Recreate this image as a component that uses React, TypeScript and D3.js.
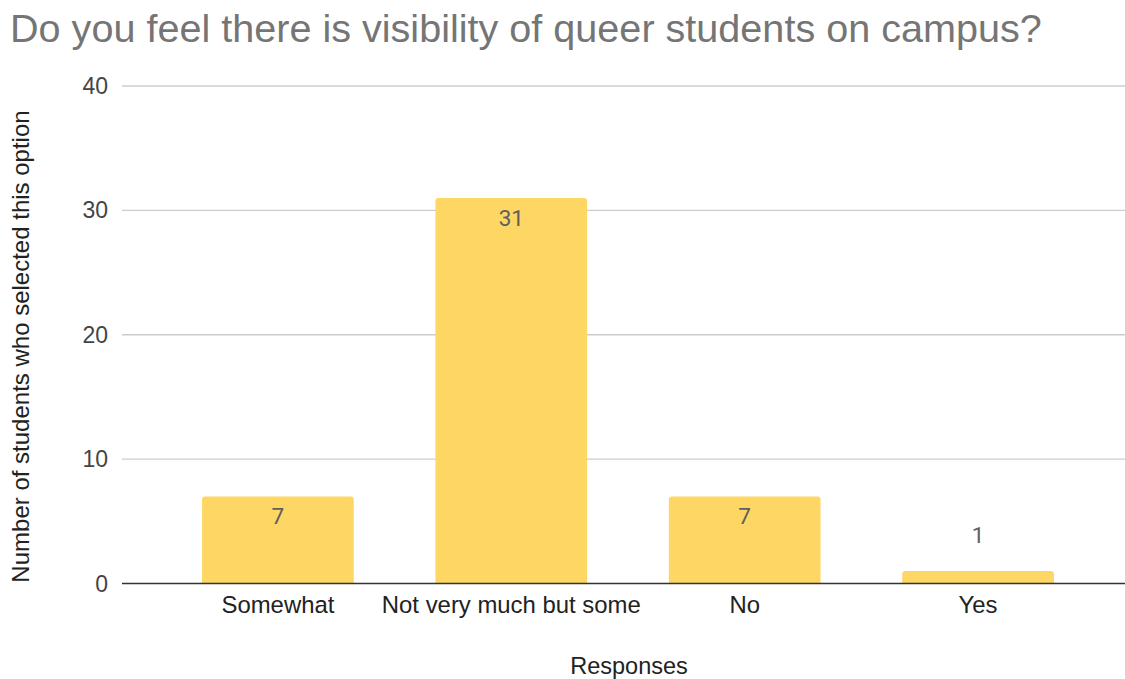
import React from "react";
import * as d3 from "d3";

const categories = ["Somewhat", "Not very much but some", "No", "Yes"];
const values = [7, 31, 7, 1];
const yTicks = [0, 10, 20, 30, 40];
const titleText = "Do you feel there is visibility of queer students on campus?";
const xAxisTitle = "Responses";
const yAxisTitle = "Number of students who selected this option";

const W = 1125;
const H = 679;
const FONT = "Arial, 'Liberation Sans', sans-serif";

export default function App() {
  const plotLeft = 122;
  const plotRight = 1125;
  const y = d3.scaleLinear().domain([0, 40]).range([583.5, 86]);
  const x = d3
    .scaleBand<string>()
    .domain(categories)
    .range([122, 1134])
    .paddingInner(0.35)
    .paddingOuter(0.343);

  const r = 3;
  const barPath = (x0: number, w: number, yTop: number, yBot: number) => {
    const h = yBot - yTop;
    const rr = Math.min(r, h / 2, w / 2);
    return `M${x0},${yBot}V${yTop + rr}Q${x0},${yTop} ${x0 + rr},${yTop}H${x0 + w - rr}Q${x0 + w},${yTop} ${x0 + w},${yTop + rr}V${yBot}Z`;
  };

  return (
    <svg width={W} height={H} style={{ position: "absolute", left: 0, top: 0, background: "#fff" }} fontFamily={FONT}>
      <rect x={0} y={0} width={W} height={H} fill="#fff" />
      <text x={10} y={42} fontSize={39.6} fill="#757575">
        {titleText}
      </text>
      {yTicks.map((t) => (
        <g key={t}>
          {t !== 0 && (
            <line x1={plotLeft} x2={plotRight} y1={y(t)} y2={y(t)} stroke="#cccccc" strokeWidth={1.3} />
          )}
          <text x={108} y={y(t)} dy="0.35em" textAnchor="end" fontSize={23} fill="#444444">
            {t}
          </text>
        </g>
      ))}
      {categories.map((c, i) => {
        const x0 = x(c)!;
        const w = x.bandwidth();
        const yTop = y(values[i]);
        const inside = values[i] >= 3;
        return (
          <g key={c}>
            <path d={barPath(x0, w, yTop, y(0))} fill="#fdd663" />
            <text
              x={x0 + w / 2}
              y={inside ? yTop + 20 : yTop - 36}
              dy="0.35em"
              textAnchor="middle"
              fontSize={22.5}
              fill="#5f5f5f"
              fontFamily="Roboto, Arial, sans-serif"
            >
              {values[i]}
            </text>
            <text x={x0 + w / 2} y={613} textAnchor="middle" fontSize={23.9} fill="#222222">
              {c}
            </text>
          </g>
        );
      })}
      <line x1={plotLeft} x2={plotRight} y1={y(0)} y2={y(0)} stroke="#333333" strokeWidth={1.6} />
      <text x={629} y={674} textAnchor="middle" fontSize={23.5} fill="#222222">
        {xAxisTitle}
      </text>
      <text
        transform={`translate(29,${(110 + 583) / 2}) rotate(-90)`}
        textAnchor="middle"
        fontSize={24}
        fill="#222222"
      >
        {yAxisTitle}
      </text>
    </svg>
  );
}
